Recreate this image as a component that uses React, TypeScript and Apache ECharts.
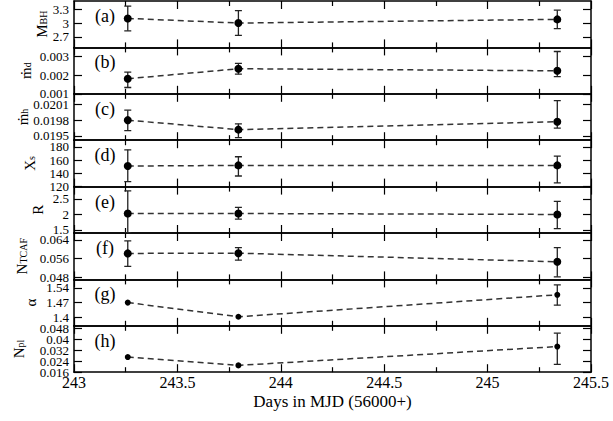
import React, { useEffect, useRef } from "react";
import * as echarts from "echarts";

// ---- data ----
const days = [243.26, 243.795, 245.337];

const mBH = [3.1, 3.0, 3.08];
const mBHLow = [0.27, 0.27, 0.2];
const mBHHigh = [0.27, 0.27, 0.2];

const mdotD = [0.00181, 0.00235, 0.00224];
const mdotDLow = [0.00047, 0.00029, 0.00032];
const mdotDHigh = [0.00036, 0.00029, 0.00104];

const mdotH = [0.0198, 0.01962, 0.01977];
const mdotHLow = [0.0002, 0.00015, 0.00012];
const mdotHHigh = [0.00019, 0.00011, 0.0004];

const xs = [151, 152, 152];
const xsLow = [23.5, 16, 26.5];
const xsHigh = [24.5, 13, 14];

const rVals = [2.03, 2.03, 2.0];
const rLow = [0.63, 0.18, 0.46];
const rHigh = [0.73, 0.2, 0.42];

const nTcaf = [0.0582, 0.0583, 0.0546];
const nTcafLow = [0.0056, 0.003, 0.0065];
const nTcafHigh = [0.0054, 0.0024, 0.0061];

const alphaVals = [1.47, 1.403, 1.507];
const alphaLow = [0, 0, 0.049];
const alphaHigh = [0, 0, 0.047];

const nPl = [0.0271, 0.021, 0.0348];
const nPlLow = [0, 0, 0.0131];
const nPlHigh = [0, 0, 0.0098];

const panelLetters = ["(a)", "(b)", "(c)", "(d)", "(e)", "(f)", "(g)", "(h)"];

const yMins = [2.47, 0.001, 0.01942, 120, 1.4, 0.047, 1.36, 0.016];
const yMaxs = [3.48, 0.0035, 0.0203, 190, 2.9, 0.067, 1.58, 0.05];
const yTicks = [
  [2.7, 3, 3.3],
  [0.001, 0.002, 0.003],
  [0.0195, 0.0198, 0.0201],
  [120, 140, 160, 180],
  [1.5, 2, 2.5],
  [0.048, 0.056, 0.064],
  [1.4, 1.47, 1.54],
  [0.016, 0.024, 0.032, 0.04, 0.048],
];

// y-axis titles: [main, subscript]
const yNames: [string, string][] = [
  ["M", "BH"],
  ["ṁ", "d"],
  ["ṁ", "h"],
  ["X", "s"],
  ["R", ""],
  ["N", "TCAF"],
  ["α", ""],
  ["N", "pl"],
];

const xMin = 243;
const xMax = 245.5;
const xInterval = 0.5;
const xTitle = "Days in MJD (56000+)";

const seriesVals = [mBH, mdotD, mdotH, xs, rVals, nTcaf, alphaVals, nPl];
const seriesLow = [mBHLow, mdotDLow, mdotHLow, xsLow, rLow, nTcafLow, alphaLow, nPlLow];
const seriesHigh = [mBHHigh, mdotDHigh, mdotHHigh, xsHigh, rHigh, nTcafHigh, alphaHigh, nPlHigh];

// ---- layout ----
const W = 613;
const H = 421;
const LEFT = 74;
const RIGHT = 22;
const TOP0 = 1;
const PH = 46.4;
const nameX = [43.5, 27, 24, 31.5, 39.5, 23.5, 32.5, 20.5];
const FONT = "'Liberation Serif', 'Times New Roman', 'DejaVu Serif', serif";

export default function App() {
  const ref = useRef<HTMLDivElement>(null);

  useEffect(() => {
    if (!ref.current) return;
    const chart = echarts.init(ref.current, undefined, { renderer: "svg" });
    const n = seriesVals.length;
    const grids: any[] = [];
    const xAxes: any[] = [];
    const yAxes: any[] = [];
    const series: any[] = [];
    const graphics: any[] = [];

    const axisLine = { show: true, onZero: false, lineStyle: { color: "#000", width: 1.5 } };
    const tickStyle = { color: "#000", width: 1.2 };
    const yLabelBase = {
      show: true,
      fontFamily: FONT,
      fontSize: 13,
      lineHeight: 10,
      color: "#000",
      margin: 5,
      showMinLabel: true,
      showMaxLabel: true,
      hideOverlap: false,
      formatter: (v: number) => String(v),
    };

    for (let i = 0; i < n; i++) {
      const top = TOP0 + i * PH;
      grids.push({ left: LEFT, right: RIGHT, top, height: PH, containLabel: false });
      const isLast = i === n - 1;
      const baseX = {
        gridIndex: i,
        type: "value",
        min: xMin,
        max: xMax,
        interval: xInterval,
        axisLine,
        axisTick: { show: true, inside: true, length: 8, lineStyle: tickStyle },
        minorTick: { show: true, splitNumber: 2, length: 5, lineStyle: tickStyle },
        splitLine: { show: false },
        minorSplitLine: { show: false },
      };
      xAxes.push({
        ...baseX,
        position: "bottom",
        axisLabel: {
          show: isLast,
          fontFamily: FONT,
          fontSize: 16,
          color: "#000",
          margin: 2,
          showMinLabel: true,
          showMaxLabel: true,
          hideOverlap: false,
        },
        name: isLast ? xTitle : "",
        nameLocation: "middle",
        nameGap: 21,
        nameTextStyle: { fontFamily: FONT, fontSize: 17, color: "#000" },
      });
      xAxes.push({ ...baseX, position: "top", axisLabel: { show: false } });

      const ticks = yTicks[i];
      const evenTicks = ticks.filter((_, k) => k % 2 === 0);
      const oddTicks = ticks.filter((_, k) => k % 2 === 1);
      const baseY = {
        gridIndex: i,
        type: "value",
        min: yMins[i],
        max: yMaxs[i],
        splitLine: { show: false },
      };
      // left axis: line, all ticks, labels of even positions
      yAxes.push({
        ...baseY,
        position: "left",
        axisLine,
        axisTick: { show: true, inside: true, length: 8, lineStyle: tickStyle, customValues: ticks },
        axisLabel: { ...yLabelBase, customValues: evenTicks },
      });
      // second left axis, same place: labels of odd positions only
      yAxes.push({
        ...baseY,
        position: "left",
        offset: 0,
        axisLine: { show: false },
        axisTick: { show: false },
        axisLabel: { ...yLabelBase, show: oddTicks.length > 0, customValues: oddTicks.length ? oddTicks : evenTicks },
      });
      // right mirrored axis
      yAxes.push({
        ...baseY,
        position: "right",
        axisLine,
        axisTick: { show: true, inside: true, length: 8, lineStyle: tickStyle, customValues: ticks },
        axisLabel: { show: false },
      });

      const xIdx = i * 2;
      const yIdx = i * 3;
      const vals = seriesVals[i];
      const lows = seriesLow[i];
      const highs = seriesHigh[i];
      const small = i >= 6;

      series.push({
        type: "custom",
        xAxisIndex: xIdx,
        yAxisIndex: yIdx,
        clip: true,
        z: 2,
        data: days.map((d, k) => [d, vals[k], lows[k], highs[k]]),
        encode: { x: 0, y: 1 },
        renderItem: (params: any, api: any) => {
          const x = api.value(0);
          const y = api.value(1);
          const lo = api.value(2);
          const hi = api.value(3);
          if (!lo && !hi) return null;
          const pT = api.coord([x, y + hi]);
          const pB = api.coord([x, y - lo]);
          const cap = 3.5;
          const st = { stroke: "#222", lineWidth: 1.3 };
          return {
            type: "group",
            children: [
              { type: "line", shape: { x1: pT[0], y1: pT[1], x2: pB[0], y2: pB[1] }, style: st },
              { type: "line", shape: { x1: pT[0] - cap, y1: pT[1], x2: pT[0] + cap, y2: pT[1] }, style: st },
              { type: "line", shape: { x1: pB[0] - cap, y1: pB[1], x2: pB[0] + cap, y2: pB[1] }, style: st },
            ],
          };
        },
      });
      series.push({
        type: "line",
        xAxisIndex: xIdx,
        yAxisIndex: yIdx,
        z: 3,
        data: days.map((d, k) => [d, vals[k]]),
        symbol: "circle",
        symbolSize: small ? 6 : 8,
        showSymbol: true,
        itemStyle: { color: "#000" },
        lineStyle: { color: "#333", width: 1.5, type: [6, 4] },
      });

      graphics.push({
        type: "text",
        x: 105,
        y: top + 15,
        style: {
          text: panelLetters[i],
          fontFamily: FONT,
          fontSize: 18,
          fill: "#000",
          align: "center",
          verticalAlign: "middle",
        },
      });

      const [main, sub] = yNames[i];
      graphics.push({
        type: "text",
        x: nameX[i],
        y: top + PH / 2,
        rotation: Math.PI / 2,
        style: {
          text: sub ? `{m|${main}}{s|${sub}}` : `{m|${main}}`,
          align: "center",
          verticalAlign: "middle",
          rich: {
            m: { fontFamily: FONT, fontSize: 15, lineHeight: 15, padding: [0, 0, 3, 0], fill: "#000" },
            s: { fontFamily: FONT, fontSize: 10, lineHeight: 10, fill: "#000" },
          },
        },
      });
    }

    chart.setOption({
      animation: false,
      backgroundColor: "#fff",
      grid: grids,
      xAxis: xAxes,
      yAxis: yAxes,
      series,
      graphic: graphics,
    });
    return () => chart.dispose();
  }, []);

  return (
    <div
      ref={ref}
      style={{ position: "fixed", left: 0, top: 0, width: W, height: H, background: "#fff" }}
    />
  );
}
